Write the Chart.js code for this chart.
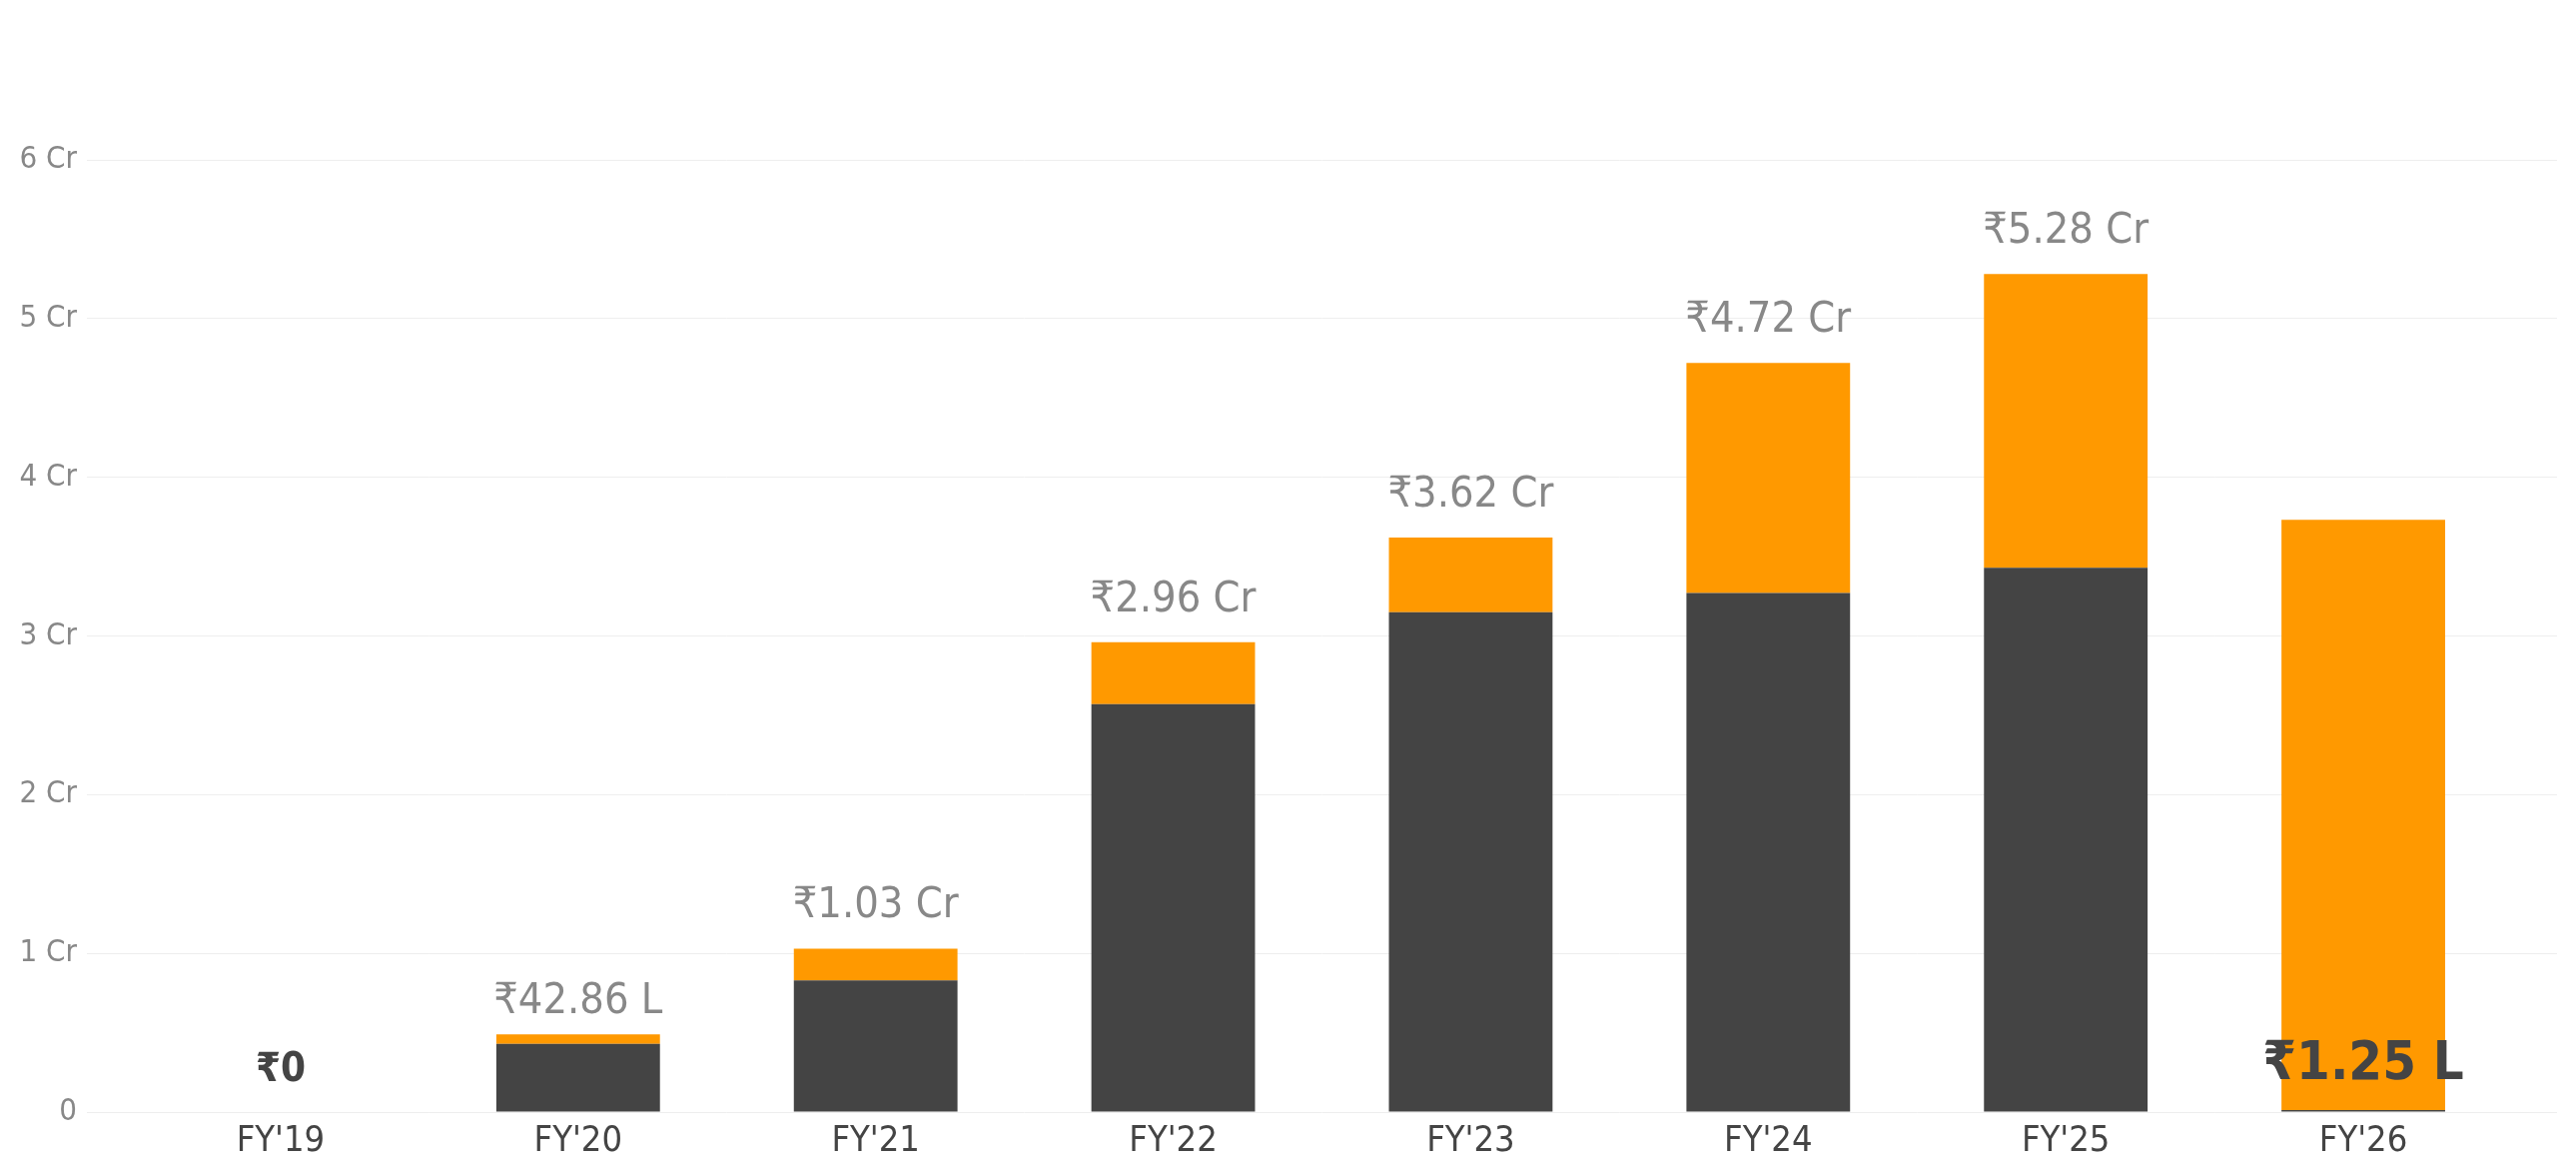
<!DOCTYPE html>
<html>
<head>
<meta charset="utf-8">
<script src="https://cdn.jsdelivr.net/npm/chart.js@4"></script>
<style>
  html, body { margin: 0; padding: 0; background: #fff; }
  #grafico { display: block; }
</style>
</head>
<body>
<canvas id="grafico" width="2579" height="1177"></canvas>
<script>
// Dados (valores em Crores)
const anos = ["FY'19", "FY'20", "FY'21", "FY'22", "FY'23", "FY'24", "FY'25", "FY'26"];
const valorEscuro = [0, 0.43, 0.83, 2.57, 3.15, 3.27, 3.43, 0.0125];
const valorLaranja = [0, 0.06, 0.20, 0.39, 0.47, 1.45, 1.85, 3.72];
const rotuloTexto = ['₹0', '₹42.86 L', '₹1.03 Cr', '₹2.96 Cr', '₹3.62 Cr', '₹4.72 Cr', '₹5.28 Cr', '₹1.25 L'];
const rotuloValor = [0, 0.4286, 1.03, 2.96, 3.62, 4.72, 5.28, 0.0125];
const ticksY = [0, 1, 2, 3, 4, 5, 6];

const FONTE = "'DejaVu Sans Condensed', 'DejaVu Sans', sans-serif";

// estilos dos rótulos em destaque (primeiro e último ano)
const destaque = {
    0: { font: 'bold 40px ' + FONTE, color: '#444444' },
    7: { font: 'bold 54px ' + FONTE, color: '#444444' }
};

// Plugin para escrever os valores acima das barras
const rotulosPlugin = {
    id: 'rotulos',
    afterDatasetsDraw(chart) {
        const ctx = chart.ctx;
        const x = chart.scales.x;
        const y = chart.scales.y;
        ctx.save();
        ctx.textAlign = 'center';
        ctx.textBaseline = 'alphabetic';
        rotuloTexto.forEach((texto, i) => {
            const estilo = destaque[i] || { font: '43px ' + FONTE, color: '#888888' };
            ctx.font = estilo.font;
            ctx.fillStyle = estilo.color;
            ctx.fillText(texto, x.getPixelForValue(i), y.getPixelForValue(rotuloValor[i]) - 31);
        });
        ctx.restore();
    }
};

const ctx = document.getElementById('grafico').getContext('2d');
new Chart(ctx, {
    type: 'bar',
    data: {
        labels: anos,
        datasets: [
            {
                label: 'Escuro',
                data: valorEscuro,
                backgroundColor: '#444444',
                borderWidth: 0
            },
            {
                label: 'Laranja',
                data: valorLaranja,
                backgroundColor: '#FF9900',
                borderWidth: 0
            }
        ]
    },
    options: {
        responsive: false,
        animation: false,
        devicePixelRatio: 1,
        layout: {
            padding: { top: 160, left: 0, right: 0, bottom: 0 }
        },
        datasets: {
            bar: { barPercentage: 0.55, categoryPercentage: 1.0 }
        },
        plugins: {
            legend: { display: false },
            tooltip: { enabled: false },
            title: { display: false }
        },
        scales: {
            x: {
                stacked: true,
                grid: { display: false, drawTicks: false },
                border: { display: false },
                ticks: {
                    color: '#444444',
                    padding: 8,
                    font: { family: FONTE, size: 36 }
                },
                afterFit: (scale) => { scale.height = 64; }
            },
            y: {
                stacked: true,
                min: 0,
                max: 6,
                afterBuildTicks: (scale) => { scale.ticks = ticksY.map(v => ({ value: v })); },
                grid: { color: '#eeeeee', lineWidth: 1, drawTicks: true, tickLength: 45 },
                border: { display: false },
                ticks: {
                    color: '#888888',
                    padding: 10,
                    font: { family: FONTE, size: 31 },
                    callback: (v) => v === 0 ? '0' : v + ' Cr'
                },
                afterFit: (scale) => { scale.width = 132; }
            },
            y2: {
                position: 'right',
                min: 0,
                max: 6,
                afterBuildTicks: (scale) => { scale.ticks = ticksY.map(v => ({ value: v })); },
                grid: { color: '#eeeeee', lineWidth: 1, drawOnChartArea: false, drawTicks: true, tickLength: 45 },
                border: { display: false },
                ticks: { display: false },
                afterFit: (scale) => { scale.width = 64; }
            }
        }
    },
    plugins: [rotulosPlugin]
});
</script>
</body>
</html>
